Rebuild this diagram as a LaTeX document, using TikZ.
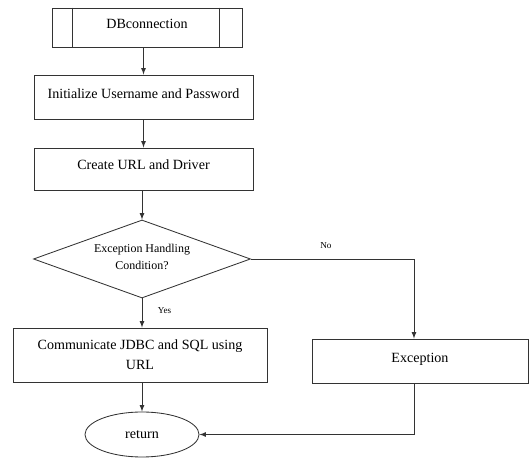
\documentclass[tikz,border=0pt]{standalone}
\usepackage{fontspec}
\setmainfont{Liberation Serif}
\usetikzlibrary{shapes.geometric}

\tikzset{
  flow/.style={draw=black!80, line width=0.6pt},
  procbox/.style={flow, rectangle, inner sep=2pt, align=center, font=\fontsize{10}{14}\selectfont},
  decision/.style={flow, diamond, aspect=2.8, inner sep=0pt, align=center, font=\fontsize{8.5}{12}\selectfont},
  terminal/.style={flow, ellipse, inner sep=0pt, font=\fontsize{10}{12}\selectfont},
  branch/.style={font=\fontsize{6.5}{8}\selectfont, inner sep=1pt},
}

\begin{document}
\begin{tikzpicture}[x=0.025cm, y=-0.025cm, >=latex]
            \useasboundingbox (0,0) rectangle (529,458);
            % boxes
            \node[procbox, minimum width=4.75cm, minimum height=0.975cm, text depth=0.45em] (db) at (147,27.5) {DBconnection};
            \draw[flow] ([xshift=0.525cm]db.north west) -- ([xshift=0.525cm]db.south west);
            \draw[flow] ([xshift=-0.575cm]db.north east) -- ([xshift=-0.575cm]db.south east);
            \node[procbox, minimum width=5.475cm, minimum height=1.1cm, text depth=0.45em] (init) at (143.5,97) {Initialize Username and Password};
            \node[procbox, minimum width=5.475cm, minimum height=1.05cm, text depth=0.6em] (create) at (143.5,169) {Create URL and Driver};
            \node[decision, minimum width=5.425cm, minimum height=1.95cm, text depth=0.3em] (cond) at (142,259) {Exception Handling\\Condition?};
            \node[procbox, minimum width=6.35cm, minimum height=1.35cm] (comm) at (140,355) {Communicate JDBC and SQL using\\URL};
            \node[procbox, minimum width=5.4cm, minimum height=1.1cm, text depth=0.45em] (exc) at (420,361) {Exception};
            \node[terminal, minimum width=2.85cm, minimum height=1.125cm] (ret) at (142,434.5) {return};
            % connectors
            \draw[flow, ->] (db.south -| init) -- (init);
            \draw[flow, ->] (init) -- (create);
            \draw[flow, ->] (create.south -| cond) -- (cond);
            \draw[flow, ->] (cond.south) -- node[branch, pos=0.4, right, xshift=10pt] {Yes} (cond.south |- comm.north);
            \draw[flow, ->] (comm.south -| ret) -- (ret);
            \draw[flow, ->] (cond.east) -| node[branch, pos=0.23, above, yshift=6pt] {No} ([xshift=-0.15cm]exc.north);
            \draw[flow, ->] ([xshift=-0.15cm]exc.south) |- (ret.east);
        \end{tikzpicture}
\end{document}
